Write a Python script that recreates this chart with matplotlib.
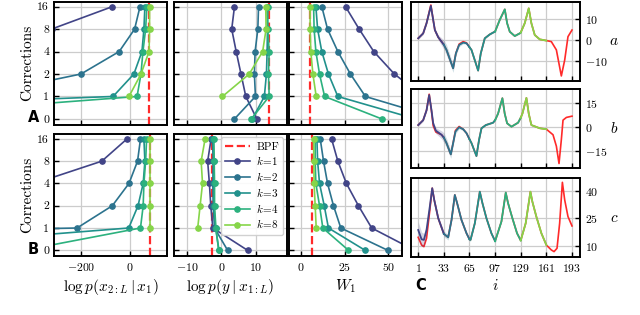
import numpy as np
import matplotlib
matplotlib.use("Agg")
import matplotlib.pyplot as plt
from matplotlib.lines import Line2D

plt.rcParams['font.family'] = 'serif'
plt.rcParams['font.serif'] = ['cmr10', 'DejaVu Serif']
plt.rcParams['mathtext.fontset'] = 'cm'
plt.rcParams['axes.formatter.use_mathtext'] = True

nan = np.nan

# corrections (categorical y axis)
corrections = ['0', '1', '2', '4', '8', '16']
ks = ['1', '2', '3', '4', '8']

# log p(x_{2:L} | x_1), row A and row B, one list per k (order: 0,1,2,4,8,16 corrections)
lpx_A = [[-1200, -1000, -900, -700, -320, -72],
         [-1500, -640, -200, -44, 19, 41],
         [-2500, -69, 16, 49, 57, 61],
         [-1180, 29, 45, 53, 64, 69],
         [nan, -4, 45, 78, 80, 80]]
lpx_B = [[-1500, -1200, -900, -390, -115, -12],
         [-5000, -216, -72, -4, 31, 43],
         [-1160, -5, 33, 54, 61, 57],
         [-433, 43, 54, 57, 64, 68],
         [nan, 83, 83, 83, 83, 83]]
# log p(y | x_{1:L})
lpy_A = [[10.3, 7.1, 5.7, 4.3, 3.0, 3.8],
         [3.8, 9.9, 9.6, 9.8, 10.6, 10.8],
         [9.0, 12.5, 13.1, 13.3, 13.4, 13.3],
         [8.7, 13.9, 13.7, 13.9, 13.5, 13.5],
         [nan, 0.3, 8.1, 12.0, 13.0, 12.9]]
lpy_B = [[7.6, -2.5, -3.1, -3.5, -4.0, -3.0],
         [1.8, -2.0, -2.4, -2.5, -2.4, -2.6],
         [-0.7, -1.7, -2.2, -2.2, -2.2, -2.4],
         [-0.8, -1.6, -2.0, -2.0, -2.1, -2.2],
         [nan, -6.9, -6.2, -5.5, -5.9, -4.75]]
# W_1
w1_A = [[100, 70, 53.4, 41.6, 33.2, 25.4],
        [80, 36.8, 28.2, 21.0, 15.1, 11.8],
        [65.6, 21.0, 15.6, 11.8, 9.4, 8.4],
        [46.2, 13.4, 10.5, 8.4, 7.4, 7.1],
        [nan, 8.6, 6.7, 5.5, 5.1, 5.1]]
w1_B = [[65, 40.4, 32.8, 25.9, 21.0, 17.4],
        [49.6, 22.7, 18.5, 15.1, 12.8, 10.9],
        [36.6, 15.6, 13.2, 10.5, 9.4, 9.0],
        [27.1, 12.4, 10.5, 8.4, 8.0, 8.0],
        [nan, 8.6, 8.0, 7.4, 7.2, 7.1]]
bpf_A = [79, 13.9, 5.1]
bpf_B = [83, -2.8, 6.0]

# panel C: trajectories, ensemble mean (to i=161) with spread, and truth (to i=193)
a_i = [1, 7.2, 11.4, 16.8, 19.7, 21.8, 26, 30.1, 33, 36.3, 44.6, 48, 52.1, 57.1, 61.3, 65,
       67.5, 75.8, 79.1, 84.1, 90.4, 97, 102.8, 109.1, 112, 115.3, 121.5, 127.8, 129, 134,
       139, 142.3, 146.5, 152.7, 161]
a_ens = [0.8, 3.2, 8.1, 16.5, 9.7, 4.8, 1.3, -0.8, -2.3, -4.8, -13.7, -6.5, -2.4, -1.3, -1.6,
         -3.5, -4.8, -14.8, -6.5, 0.8, 2.7, 4.1, 9.7, 14.8, 8.1, 4.0, 1.9, 3.2, 3.6, 8.1,
         15.3, 8.1, 2.4, 0.3, -0.3]
a_sd = [0.6, 0.6, 0.7, 0.8, 0.8, 0.8, 1.2, 1.8, 2.2, 2.6, 2.0, 1.2, 0.8, 0.6, 0.5, 0.5,
        0.5, 0.6, 0.5, 0.4, 0.3, 0.3, 0.3, 0.3, 0.3, 0.3, 0.3, 0.3, 0.3, 0.3, 0.3, 0.3,
        0.3, 0.3, 0.3]
a_ti = [1, 7.2, 11.4, 16.8, 19.7, 21.8, 26, 30.1, 33, 36.3, 44.6, 48, 52.1, 57.1, 61.3, 65,
        67.5, 75.8, 79.1, 84.1, 90.4, 97, 102.8, 109.1, 112, 115.3, 121.5, 127.8, 129, 134,
        139, 142.3, 146.5, 152.7, 161, 167.2, 173.5, 179.7, 183.9, 188, 193]
a_true = [0.8, 3.2, 8.1, 16.9, 9.7, 4.8, 1.3, -0.8, -2.3, -4.8, -13.7, -6.5, -2.0, -0.8, -1.4,
          -3.5, -4.8, -14.8, -6.5, 0.8, 2.7, 4.1, 9.7, 14.8, 8.1, 4.0, 1.9, 3.2, 3.6, 8.1,
          15.3, 8.1, 2.4, 0.3, -0.3, -0.8, -4.8, -17.4, -9.7, 1.6, 4.8]

b_i = [1, 7.2, 11.4, 14.7, 17.6, 19.7, 23, 30.1, 33, 36.3, 41.7, 44.6, 47.5, 52.1, 57.1,
       61.3, 65, 67.5, 73.7, 77, 80, 85.4, 94.5, 97, 100.7, 106.1, 109, 112, 117.4, 125.7,
       129, 131.1, 136.1, 139, 142.3, 152.7, 161]
b_ens = [1.4, 4.5, 10.7, 20.3, 10.7, 2.5, -2.1, -4.7, -6.5, -9.9, -17, -9.9, -2.7, 0, -1.2,
         -3.7, -7.5, -9.9, -18.1, -7.8, -0.6, 1.4, 2.9, 4.5, 8.6, 18.3, 8.6, 2.5, 0.4, 2.9,
         6.0, 8.6, 18.5, 8.6, 1.4, -0.6, -1.2]
b_sd = [0.8, 0.8, 0.9, 1.0, 1.2, 1.3, 1.8, 2.5, 3.0, 3.0, 2.5, 2.0, 1.5, 1.0, 0.8, 0.7,
        0.6, 0.6, 0.6, 0.5, 0.4, 0.4, 0.3, 0.3, 0.3, 0.3, 0.3, 0.3, 0.3, 0.3, 0.3, 0.3,
        0.3, 0.3, 0.3, 0.3, 0.3]
b_ti = [1, 7.2, 11.4, 14.7, 17.6, 19.7, 23, 30.1, 33, 36.3, 41.7, 44.6, 47.5, 52.1, 57.1,
        61.3, 65, 67.5, 73.7, 77, 80, 85.4, 94.5, 97, 100.7, 106.1, 109, 112, 117.4, 125.7,
        129, 131.1, 136.1, 139, 142.3, 152.7, 161, 169.3, 173.5, 176.8, 179.7, 181.8, 186, 193]
b_true = [1.4, 4.5, 10.7, 20.8, 10.0, 1.0, -3.0, -4.7, -6.5, -9.9, -17, -9.9, -2.0, 0.5, -1.2,
          -3.7, -7.5, -9.9, -18.1, -7.8, -0.6, 1.4, 2.9, 4.5, 8.6, 18.3, 8.6, 2.5, 0.4, 2.9,
          6.0, 8.6, 18.5, 8.6, 1.4, -0.6, -1.2, -4.7, -11.9, -22.8, -7.8, 4.5, 6.2, 7]

c_i = [1, 5.2, 8.1, 11.4, 15.5, 18.5, 21, 26, 33, 38.4, 42.6, 46.7, 49.6, 55, 61.3, 65,
       66.3, 71.7, 77.9, 81.2, 86.2, 92.4, 97, 104.9, 110.3, 113.2, 118.6, 124.4, 129,
       135.2, 141.1, 143.5, 148.5, 154.8, 161]
c_ens = [18.7, 13.6, 13.3, 18.7, 31.5, 41.5, 35.1, 25.1, 16.6, 14.7, 24.2, 37.8, 33.3, 24.2,
         16.9, 13.6, 13.3, 22.4, 39.6, 33.3, 25.1, 16.9, 12.6, 23.3, 39.1, 33.3, 25.1, 16.9,
         13.0, 22.4, 39.6, 34.2, 26, 16.9, 10.5]
c_sd = [4.5, 4.0, 3.5, 3.0, 2.0, 1.2, 1.2, 1.2, 1.5, 1.5, 1.2, 1.0, 0.9, 0.8, 0.8, 0.8,
        0.8, 0.6, 0.6, 0.5, 0.5, 0.5, 0.5, 0.4, 0.4, 0.4, 0.4, 0.4, 0.4, 0.4, 0.4, 0.4,
        0.4, 0.4, 0.4]
c_ti = [1, 5.2, 8.1, 11.4, 15.5, 18.5, 21, 26, 33, 38.4, 42.6, 46.7, 49.6, 55, 61.3, 65,
        66.3, 71.7, 77.9, 81.2, 86.2, 92.4, 97, 104.9, 110.3, 113.2, 118.6, 124.4, 129,
        135.2, 141.1, 143.5, 148.5, 154.8, 161, 167.2, 170.6, 174.3, 177.6, 181, 183.9,
        188, 193]
c_true = [14.7, 10.5, 9.6, 14.2, 29.6, 41.5, 35.1, 25.1, 16.6, 14.7, 24.2, 37.8, 33.3, 24.2,
          16.9, 13.6, 13.3, 22.4, 39.6, 33.3, 25.1, 16.9, 12.6, 23.3, 39.1, 33.3, 25.1, 16.9,
          13.0, 22.4, 39.6, 34.2, 26, 16.9, 10.5, 7.8, 6.9, 8.7, 22.4, 44.7, 35.1, 26, 20.9]

kcols = plt.cm.viridis([0.2, 0.38, 0.5, 0.64, 0.82])
red = '#ff2a2a'

W, H = 640, 315
fig = plt.figure(figsize=(6.4, 3.15), dpi=100)


def style(ax):
    ax.grid(True, color='#cccccc', lw=0.9)
    ax.set_axisbelow(True)
    ax.tick_params(direction='in', length=3.5, width=1, labelsize=8.5)
    for s in ax.spines.values():
        s.set_linewidth(1.4)


lefts = [54, 174, 289]
rows = [(1.7, 125), (134, 256.3)]
xlims = [(-310, 150), (-13.8, 19), (-7, 57.6)]
xticks = [[-200, 0], [-10, 0, 10], [0, 25, 50]]
xlabels = [r'$\log p(x_{2:L} \mid x_1)$', r'$\log p(y \mid x_{1:L})$', r'$W_1$']
data = [[lpx_A, lpy_A, w1_A], [lpx_B, lpy_B, w1_B]]
bpfs = [bpf_A, bpf_B]
ypos = np.arange(len(corrections))

for r, (top, bot) in enumerate(rows):
    for c in range(3):
        ax = fig.add_axes([lefts[c] / W, 1 - bot / H, 112.7 / W, (bot - top) / H])
        style(ax)
        ax.axvline(bpfs[r][c], color=red, ls='--', lw=1.6, zorder=1.5)
        for j, vals in enumerate(data[r][c]):
            ax.plot(vals, ypos, '-o', color=kcols[j], lw=1.2, ms=3.8)
        ax.set_xlim(*xlims[c])
        ax.set_xticks(xticks[c])
        ax.set_ylim(-0.27, 5.22)
        ax.set_yticks(ypos)
        if c == 0:
            ax.set_yticklabels(corrections)
            ax.set_ylabel('Corrections', fontsize=11, labelpad=2)
        else:
            ax.set_yticklabels([])
        if r == 0:
            ax.set_xticklabels([])
        else:
            ax.set_xlabel(xlabels[c], fontsize=11, labelpad=3)
        if r == 1 and c == 1:
            handles = [Line2D([], [], color=red, ls='--', lw=1.6, label='BPF')]
            for j, k in enumerate(ks):
                handles.append(Line2D([], [], color=kcols[j], marker='o', ms=3.8, lw=1.2,
                                      label=r'$k\!=\!%s$' % k))
            ax.legend(handles=handles, loc='upper right', fontsize=8, handlelength=2.2,
                      borderpad=0.4, labelspacing=0.25, handletextpad=0.6,
                      framealpha=0.9, borderaxespad=0.3)

fig.text(28 / W, 1 - 118 / H, 'A', fontsize=10.5, fontweight='bold', family='DejaVu Sans',
         ha='left', va='center')
fig.text(28 / W, 1 - 250 / H, 'B', fontsize=10.5, fontweight='bold', family='DejaVu Sans',
         ha='left', va='center')
fig.text(415 / W, 1 - 285 / H, 'C', fontsize=10.5, fontweight='bold', family='DejaVu Sans',
         ha='left', va='center')

blocks = [(1, 33), (33, 65), (65, 97), (97, 129), (129, 161)]
cpanels = [(1.7, 80.7, a_i, a_ens, a_sd, a_ti, a_true, (-19.7, 18.5), [-10, 0, 10], 'a'),
           (89.3, 168.3, b_i, b_ens, b_sd, b_ti, b_true, (-25.8, 23.9), [-15, 0, 15], 'b'),
           (178.3, 257.3, c_i, c_ens, c_sd, c_ti, c_true, (3.8, 46.9), [10, 25, 40], 'c')]
for n, (top, bot, xi, ens, sd, ti, tru, ylim, yt, lab) in enumerate(cpanels):
    ax = fig.add_axes([411 / W, 1 - bot / H, 169 / W, (bot - top) / H])
    style(ax)
    ax.plot(ti, tru, color=red, lw=1.2, zorder=2)
    xi_a = np.array(xi)
    ens_a = np.array(ens)
    sd_a = np.array(sd)
    for j, (lo, hi) in enumerate(blocks):
        m = (xi_a >= lo) & (xi_a <= hi)
        ax.fill_between(xi_a[m], ens_a[m] - sd_a[m], ens_a[m] + sd_a[m], color=kcols[j],
                        alpha=0.22, lw=0, zorder=2.5)
        ax.plot(xi_a[m], ens_a[m], color=kcols[j], lw=1.3, zorder=3)
    ax.set_xlim(-8, 203)
    ax.set_xticks([1, 33, 65, 97, 129, 161, 193])
    ax.set_ylim(*ylim)
    ax.set_yticks(yt)
    ax.yaxis.tick_right()
    ax.tick_params(axis='y', direction='in')
    if n < 2:
        ax.set_xticklabels([])
    else:
        ax.set_xlabel('$i$', fontsize=11, labelpad=3)
    ax.text(1.2, 0.5, '$%s$' % lab, transform=ax.transAxes, fontsize=11, ha='center',
            va='center')

fig.savefig('out.png', dpi=100)
